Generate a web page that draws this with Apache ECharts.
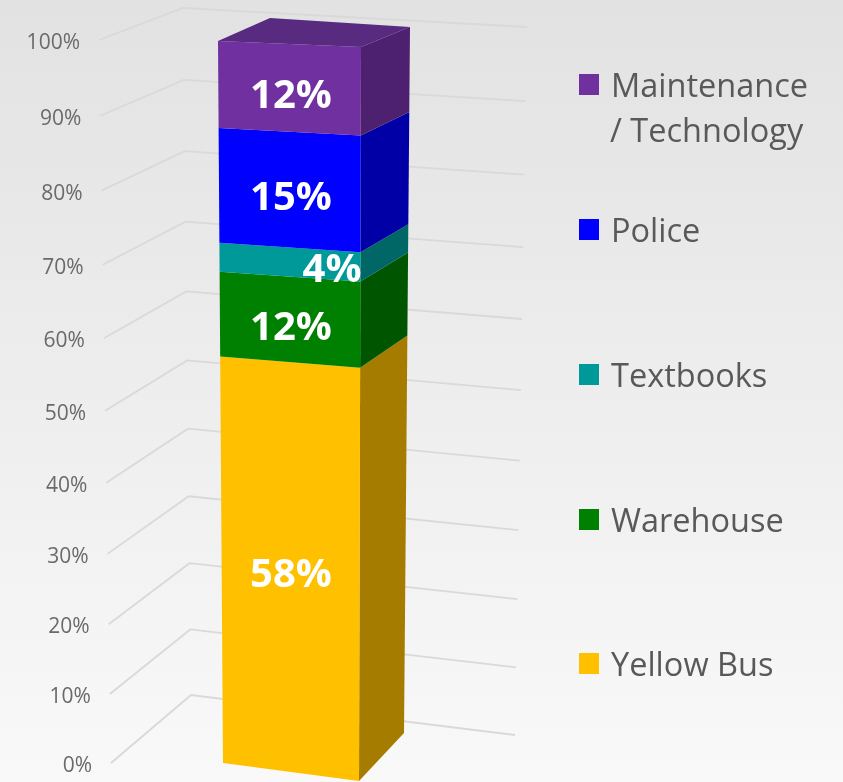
<!DOCTYPE html>
<html>
<head>
<meta charset="utf-8">
<title>Budget share</title>
<script src="https://cdn.jsdelivr.net/npm/echarts@6/dist/echarts.min.js"></script>
<style>
  html, body { margin: 0; padding: 0; }
  #chart { width: 843px; height: 782px; }
</style>
</head>
<body>
<div id="chart"></div>
<script>
// bottom to top, same order as the stack
var categories = ['Yellow Bus', 'Warehouse', 'Textbooks', 'Police', 'Maintenance / Technology'];
// heights, the printed labels are rounded
var shares = [57.5, 11.6, 3.9, 15.4, 11.5];
var shareLabels = ['58%', '12%', '4%', '15%', '12%'];
var yTicks = [0, 10, 20, 30, 40, 50, 60, 70, 80, 90, 100];
var yTickLabels = ['0%', '10%', '20%', '30%', '40%', '50%', '60%', '70%', '80%', '90%', '100%'];

var frontColors = ['#ffc000', '#008000', '#009999', '#0000ff', '#7030a0'];
var sideColors = ['#a67c00', '#005500', '#006666', '#0000a6', '#4d2170'];
var topColor = '#582a80';
var legendTops = [650, 506, 361, 216, 71];
var labelOffsetX = [0, 0, 41, 0, 0];

// vertical edges of the 3d box, pixel position of 0% and of 100%
var wallLeft = [[111, 763], [99, 40]];
var wallCorner = [[191, 695], [183, 8]];
var wallRight = [[515, 735], [527, 27]];
var barFrontLeft = [[223, 763], [218, 41]];
var barFrontRight = [[359, 781], [361, 47]];
var barBackRight = [[404, 733], [410, 27]];
var barBackLeftTop = [270, 18];
var PERSPECTIVE = 1.053;

// normalised to the stack total, the picture is a 100% stacked column
var total = shares.reduce(function (a, b) { return a + b; }, 0);
var acc = 0;
var stackRanges = shares.map(function (v) {
    var start = acc / total * 100;
    acc += v;
    return [0, start, acc / total * 100];
});

// axis pixel -> share of the height, with the depth foreshortening
function heightOf(api, value) {
    var y0 = api.coord([0, 0])[1];
    var y1 = api.coord([0, 100])[1];
    var t = (y0 - api.coord([0, value])[1]) / (y0 - y1);
    return t / (t + (1 - t) * PERSPECTIVE);
}
function onEdge(edge, h) {
    return [
        edge[0][0] + (edge[1][0] - edge[0][0]) * h,
        edge[0][1] + (edge[1][1] - edge[0][1]) * h
    ];
}

function renderWall(params, api) {
    var h = heightOf(api, api.value(1));
    var a = onEdge(wallLeft, h), b = onEdge(wallCorner, h), c = onEdge(wallRight, h);
    return {
        type: 'group',
        children: [
            {
                type: 'polyline',
                shape: { points: [a, b, c] },
                style: { fill: null, stroke: '#d9d9d9', lineWidth: 1.8 }
            },
            {
                type: 'text',
                style: {
                    x: a[0] - 19, y: a[1] + 3,
                    text: yTickLabels[params.dataIndex],
                    fill: '#6a6a6a',
                    font: '21px "Open Sans"',
                    align: 'right', verticalAlign: 'middle'
                }
            }
        ]
    };
}

function renderBar(index) {
    return function (params, api) {
        var h0 = heightOf(api, api.value(1));
        var h1 = heightOf(api, api.value(2));
        var fl0 = onEdge(barFrontLeft, h0), fl1 = onEdge(barFrontLeft, h1);
        var fr0 = onEdge(barFrontRight, h0), fr1 = onEdge(barFrontRight, h1);
        var br0 = onEdge(barBackRight, h0), br1 = onEdge(barBackRight, h1);
        var children = [
            {
                type: 'polygon',
                shape: { points: [fr0, br0, br1, fr1] },
                style: { fill: sideColors[index] }
            },
            {
                type: 'polygon',
                shape: { points: [fl0, fr0, fr1, fl1] },
                style: { fill: frontColors[index] }
            }
        ];
        if (index === shares.length - 1) {
            children.push({
                type: 'polygon',
                shape: { points: [fl1, barBackLeftTop, br1, fr1] },
                style: { fill: topColor }
            });
        }
        children.push({
            type: 'text',
            z2: 100,
            style: {
                x: 291 + labelOffsetX[index],
                y: (fl0[1] + fr0[1] + fl1[1] + fr1[1]) / 4 + 9,
                text: shareLabels[index],
                fill: '#ffffff',
                font: 'bold 40px "Open Sans"',
                align: 'center', verticalAlign: 'middle'
            }
        });
        return { type: 'group', children: children };
    };
}

var series = [{
    type: 'custom',
    name: 'walls',
    silent: true,
    z: 1,
    coordinateSystem: 'cartesian2d',
    renderItem: renderWall,
    data: yTicks.map(function (v) { return [0, v]; })
}];
categories.forEach(function (name, i) {
    series.push({
        type: 'custom',
        name: name,
        z: 2 + i,
        coordinateSystem: 'cartesian2d',
        itemStyle: { color: frontColors[i] },
        renderItem: renderBar(i),
        data: [stackRanges[i]]
    });
});

var legendFont = { color: '#595959', fontSize: 32.5, fontFamily: 'Open Sans' };

var option = {
    animation: false,
    backgroundColor: {
        type: 'linear', x: 0, y: 0, x2: 0, y2: 1,
        colorStops: [
            { offset: 0, color: '#e2e2e2' },
            { offset: 1, color: '#f9f9f9' }
        ]
    },
    grid: { left: 0, right: 0, top: 40, bottom: 17 },
    xAxis: { type: 'value', min: 0, max: 1, show: false },
    yAxis: { type: 'value', min: 0, max: 100, show: false },
    // one legend per entry, the gaps in the picture are not regular
    legend: categories.map(function (name, i) {
        return {
            data: [{ name: name, icon: 'rect' }],
            left: 579,
            top: legendTops[i],
            padding: 0,
            itemWidth: 20,
            itemHeight: 21,
            selectedMode: false,
            textStyle: {
                rich: {
                    t: {
                        color: legendFont.color,
                        fontSize: legendFont.fontSize,
                        fontFamily: legendFont.fontFamily,
                        padding: [6, 0, 0, 7]
                    }
                }
            },
            formatter: function (n) { return '{t|' + n.split(' / ')[0] + '}'; }
        };
    }),
    graphic: [{
        type: 'text',
        left: 610,
        top: 116,
        style: {
            text: '/ Technology',
            fill: legendFont.color,
            font: legendFont.fontSize + 'px "' + legendFont.fontFamily + '"'
        }
    }],
    series: series
};

var chart = echarts.init(document.getElementById('chart'));
chart.setOption(option);
</script>
</body>
</html>
